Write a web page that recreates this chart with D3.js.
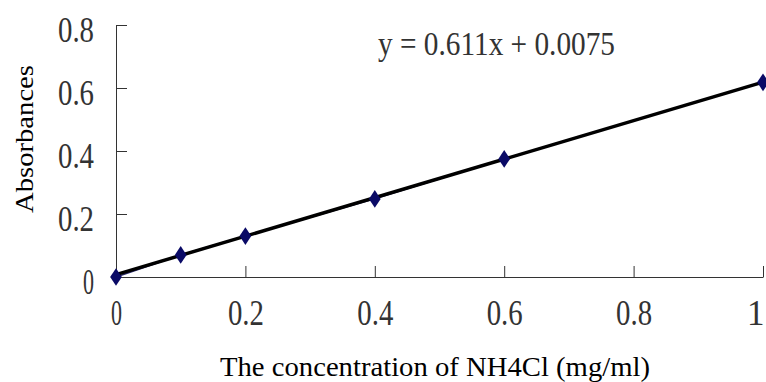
<!DOCTYPE html>
<html>
<head>
<meta charset="utf-8">
<script src="https://cdn.jsdelivr.net/npm/d3@7"></script>
<style>
  html, body { margin: 0; padding: 0; background: #fff; }
  svg { display: block; }
  text { font-family: "Liberation Serif", "Times New Roman", serif; }
</style>
</head>
<body>
<svg id="chart" width="766" height="382"></svg>
<script>
// Data
const concentrations = [0, 0.1, 0.2, 0.4, 0.6, 1.0];
const absorbances = [0, 0.070, 0.130, 0.248, 0.375, 0.618];
const xTicks = [0, 0.2, 0.4, 0.6, 0.8, 1];
const yTicks = [0, 0.2, 0.4, 0.6, 0.8];
const slope = 0.611;
const intercept = 0.0075;
const equationLabel = "y = 0.611x + 0.0075";
const xTitle = "The concentration of NH4Cl (mg/ml)";
const yTitle = "Absorbances";

const svg = d3.select("#chart");
const x = d3.scaleLinear().domain([0, 1]).range([116, 763]);
const y = d3.scaleLinear().domain([0, 0.8]).range([277, 25]);

const tickLen = s => (String(s).length === 1 ? 11 : 36);
const fmt = d => (d === 0 ? "0" : d === 1 ? "1" : d3.format(".1f")(d));

// Y axis
const gy = svg.append("g")
  .attr("transform", `translate(${x(0)},0)`)
  .call(d3.axisLeft(y).tickValues(yTicks).tickFormat(fmt)
    .tickSizeInner(-11).tickSizeOuter(0).tickPadding(22));
gy.selectAll("path, line").attr("stroke", "#333");
gy.selectAll("text")
  .attr("font-size", 35)
  .attr("font-family", "Liberation Serif, serif")
  .attr("fill", "#333")
  .attr("dy", "16px")
  .attr("lengthAdjust", "spacingAndGlyphs")
  .attr("textLength", d => tickLen(fmt(d)));

// X axis
const gx = svg.append("g")
  .attr("transform", `translate(0,${y(0)})`)
  .call(d3.axisBottom(x).tickValues(xTicks).tickFormat(fmt)
    .tickSizeInner(-11).tickSizeOuter(0).tickPadding(0));
gx.selectAll("path, line").attr("stroke", "#333");
gx.selectAll("text")
  .attr("font-size", 35)
  .attr("font-family", "Liberation Serif, serif")
  .attr("fill", "#333")
  .attr("y", 48)
  .attr("dy", 0)
  .filter(d => d !== 1)
  .attr("lengthAdjust", "spacingAndGlyphs")
  .attr("textLength", d => tickLen(fmt(d)));
gx.selectAll("text")
  .filter(d => d === 1)
  .attr("text-anchor", "end")
  .attr("x", 1);

const pts = concentrations.map((c, i) => [c, absorbances[i]]);

// Series line
svg.append("path")
  .datum(pts)
  .attr("fill", "none")
  .attr("stroke", "#2a2a6a")
  .attr("stroke-width", 1.5)
  .attr("d", d3.line().x(d => x(d[0])).y(d => y(d[1])));

// Trend line
const xDom = x.domain();
svg.append("line")
  .attr("x1", x(xDom[0])).attr("y1", y(slope * xDom[0] + intercept))
  .attr("x2", x(xDom[1])).attr("y2", y(slope * xDom[1] + intercept))
  .attr("stroke", "#000")
  .attr("stroke-width", 3.5);

// Markers
svg.append("g").selectAll("path")
  .data(pts)
  .join("path")
  .attr("transform", d => `translate(${x(d[0])},${y(d[1])}) scale(1.15,1)`)
  .attr("d", d3.symbol(d3.symbolDiamond, 90)())
  .attr("fill", "#0a0a66");

// Equation
svg.append("text")
  .attr("x", 378).attr("y", 55)
  .attr("font-size", 34)
  .attr("fill", "#333")
  .attr("lengthAdjust", "spacingAndGlyphs")
  .attr("textLength", 237)
  .text(equationLabel);

// Axis titles
svg.append("text")
  .attr("x", 435).attr("y", 376)
  .attr("text-anchor", "middle")
  .attr("font-size", 28)
  .attr("fill", "#000")
  .attr("lengthAdjust", "spacingAndGlyphs")
  .attr("textLength", 430)
  .text(xTitle);

svg.append("text")
  .attr("transform", "translate(33,139) rotate(-90)")
  .attr("text-anchor", "middle")
  .attr("font-size", 25)
  .attr("fill", "#000")
  .attr("lengthAdjust", "spacingAndGlyphs")
  .attr("textLength", 148)
  .text(yTitle);
</script>
</body>
</html>
